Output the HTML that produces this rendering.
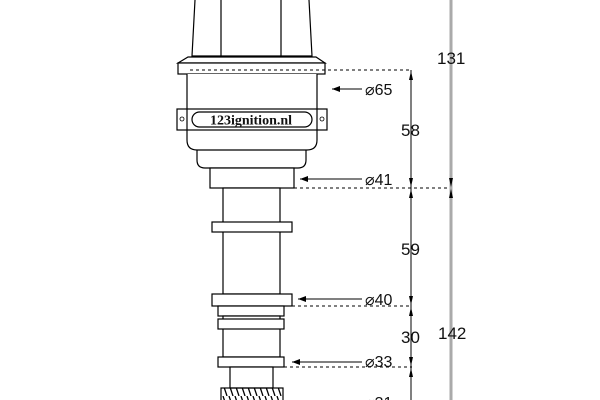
<!DOCTYPE html>
<html><head><style>body{margin:0;background:#fff}svg{display:block}text{font-family:"Liberation Sans",sans-serif;fill:#111}</style></head><body>
<svg width="600" height="400" viewBox="0 0 600 400" xmlns="http://www.w3.org/2000/svg">
<defs>
<marker id="a" markerWidth="8" markerHeight="6" refX="8" refY="3" orient="auto"><path d="M0,0L8,3L0,6z" fill="#000"/></marker>
<pattern id="h" width="6" height="12" patternUnits="userSpaceOnUse"><path d="M1,0L5,12" stroke="#000" stroke-width="1.3"/></pattern>
</defs>
<g fill="#fff" stroke="#000" stroke-width="1.2">
<path d="M195,0 L192,56 L312,56 L309,0"/>
<line x1="221" y1="0" x2="221" y2="56"/><line x1="281" y1="0" x2="281" y2="56"/>
<path d="M188,57 L316,57 L325,63 L178,63 Z"/>
<rect x="178" y="63" width="147" height="11"/>
<path d="M197,146 L197,160 Q197,168 205,168 L298,168 Q306,168 306,160 L306,146"/>
<path d="M187,74 L187,140 Q187,150 197,150 L307,150 Q317,150 317,140 L317,74"/>
<rect x="177" y="109" width="150" height="21" fill="#fff"/>
<line x1="187" y1="109" x2="187" y2="130"/><line x1="317" y1="109" x2="317" y2="130"/>
<rect x="192" y="112" width="120" height="15" rx="7.5"/>
<circle cx="182" cy="119" r="2" stroke-width="0.8"/><circle cx="322" cy="119" r="2" stroke-width="0.8"/>
<rect x="210" y="168" width="84" height="20"/>
<rect x="223" y="188" width="57" height="106"/>
<rect x="212" y="222" width="80" height="10"/>
<rect x="212" y="294" width="80" height="12"/>
<rect x="218" y="306" width="66" height="10"/>
<rect x="223" y="316" width="57" height="41"/>
<rect x="218" y="319" width="66" height="10"/>
<rect x="218" y="357" width="66" height="10"/>
<rect x="230" y="367" width="43" height="21"/>
<rect x="221" y="388" width="62" height="14" fill="url(#h)"/>
</g>
<text x="251" y="124.5" font-weight="bold" font-size="14" text-anchor="middle" style="font-family:'Liberation Serif',serif">123ignition.nl</text>
<g stroke="#000" stroke-width="1" stroke-dasharray="3,3">
<line x1="190" y1="70" x2="412" y2="70"/>
<line x1="294" y1="188" x2="452" y2="188"/>
<line x1="292" y1="306" x2="412" y2="306"/>
<line x1="284" y1="367" x2="412" y2="367"/>
</g>
<line x1="451" y1="0" x2="451" y2="400" stroke="#aaa" stroke-width="3"/>
<g fill="#000">
<path d="M409,80 L411,71 L413,80z"/><path d="M409,178 L411,187 L413,178z"/><path d="M409,198 L411,189 L413,198z"/>
<path d="M409,296 L411,305 L413,296z"/><path d="M409,316 L411,307 L413,316z"/>
<path d="M409,357 L411,366 L413,357z"/><path d="M409,377 L411,368 L413,377z"/>
<path d="M449,178 L451,187 L453,178z"/><path d="M449,198 L451,189 L453,198z"/>
</g>
<g stroke="#000" stroke-width="1">
<line x1="411" y1="70" x2="411" y2="400"/>
<line x1="362" y1="89" x2="332" y2="89" marker-end="url(#a)"/>
<line x1="362" y1="179" x2="300" y2="179" marker-end="url(#a)"/>
<line x1="362" y1="299" x2="298" y2="299" marker-end="url(#a)"/>
<line x1="362" y1="362" x2="292" y2="362" marker-end="url(#a)"/>
</g>
<g font-size="16">
<text x="365" y="95">⌀65</text><text x="365" y="185">⌀41</text><text x="365" y="305">⌀40</text><text x="365" y="367">⌀33</text><text x="365" y="408">⌀31</text>
<text x="401" y="136" font-size="17">58</text><text x="401" y="255" font-size="17">59</text><text x="401" y="343" font-size="17">30</text>
<text x="437" y="64" font-size="17">131</text><text x="438" y="339" font-size="17">142</text>
</g>
</svg>
</body></html>
